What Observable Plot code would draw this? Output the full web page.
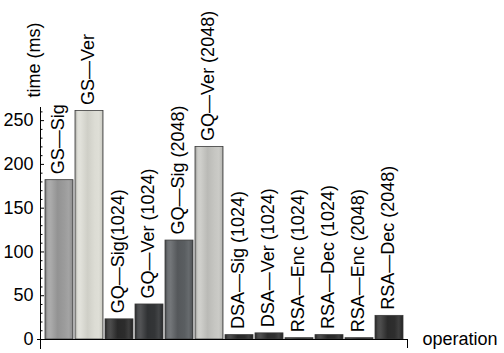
<!DOCTYPE html>
<html>
<head>
<meta charset="utf-8">
<script src="https://cdn.jsdelivr.net/npm/d3@7"></script>
<script src="https://cdn.jsdelivr.net/npm/@observablehq/plot@0.6"></script>
<style>
  html, body { margin: 0; padding: 0; background: #fff; }
  svg { display: block; }
</style>
</head>
<body>
<div id="chart"></div>
<script>
// ---- data ----
const operations = [
  "GS—Sig", "GS—Ver", "GQ—Sig(1024)", "GQ—Ver (1024)", "GQ—Sig (2048)", "GQ—Ver (2048)",
  "DSA—Sig (1024)", "DSA—Ver (1024)", "RSA—Enc (1024)", "RSA—Dec (1024)", "RSA—Enc (2048)", "RSA—Dec (2048)"
];
const timesMs = [182, 261, 23, 40, 113, 220, 5, 7, 1.5, 5, 1.5, 27];
const yMajorTicks = [0, 50, 100, 150, 200, 250];
const yMinorTicks = d3.range(0, 261, 10).filter(v => v % 50 !== 0);
const yLabel = "time (ms)";
const xLabel = "operation";

// ---- style ----
const barShades = ["#9c9c9c", "#dcdcd4", "#2c2c2c", "#333537", "#5a5e61", "#c6c6c2",
                   "#2c2c2c", "#303030", "#3e3e3e", "#2c2c2c", "#333333", "#2e2e2e"];
const font = "Liberation Sans, Arial, sans-serif";

const plot = Plot.plot({
  width: 504,
  height: 353,
  marginLeft: 40,
  marginRight: 97,
  marginTop: 107,
  marginBottom: 14,
  style: {fontFamily: font, fontSize: "18px", background: "#fff", color: "#000", overflow: "visible"},
  x: {type: "band", domain: operations, paddingInner: 0.075, paddingOuter: 0.04, axis: null},
  y: {domain: [0, 265], axis: null},
  color: {type: "identity"},
  marks: [
    Plot.barY(operations, {
      x: d => d,
      y: (d, i) => timesMs[i],
      fill: (d, i) => `url(#shade${i})`,
      stroke: "#3a3a3a",
      strokeWidth: 0.8
    }),
    Plot.text(operations, {
      x: d => d,
      y: (d, i) => timesMs[i],
      text: d => d,
      rotate: -90,
      textAnchor: "start",
      lineAnchor: "middle",
      dy: -6,
      dx: -1.5,
      fontSize: 18,
      fill: "#000"
    }),
    // y axis: labels, major ticks, minor ticks (ticks drawn inward)
    Plot.axisY({ticks: yMajorTicks, tickSize: 0, tickPadding: 7, fontSize: 18, label: null}),
    Plot.axisY({ticks: yMajorTicks, tickSize: -4, tickFormat: () => "", label: null}),
    Plot.axisY({ticks: yMinorTicks, tickSize: -2.5, tickFormat: () => "", label: null}),
    Plot.frame({anchor: "left", insetBottom: -9}),
    Plot.frame({anchor: "bottom", insetLeft: -3}),
    Plot.frame({anchor: "right", insetTop: 232, insetBottom: -8}),
    Plot.text([yLabel], {frameAnchor: "top-left", rotate: -90, textAnchor: "start", lineAnchor: "middle", dx: -6.5, dy: -10, fontSize: 18}),
    Plot.text([xLabel], {frameAnchor: "bottom-right", textAnchor: "start", lineAnchor: "middle", dx: 15, dy: 0, fontSize: 18})
  ]
});

// gradient definitions for the shaded bars
const ns = "http://www.w3.org/2000/svg";
const defs = document.createElementNS(ns, "defs");
barShades.forEach((base, i) => {
  const g = document.createElementNS(ns, "linearGradient");
  g.setAttribute("id", `shade${i}`);
  g.setAttribute("x1", "0"); g.setAttribute("x2", "1");
  g.setAttribute("y1", "0"); g.setAttribute("y2", "0");
  const dark = t => d3.interpolateRgb(base, "#000")(t);
  const light = t => d3.interpolateRgb(base, "#fff")(t);
  const stops = [
    [0, dark(0.25)], [0.1, light(0.12)], [0.2, light(0.15)], [0.45, dark(0.06)],
    [0.7, base], [0.85, light(0.08)], [0.95, dark(0.05)], [1, dark(0.3)]
  ];
  for (const [o, c] of stops) {
    const s = document.createElementNS(ns, "stop");
    s.setAttribute("offset", o);
    s.setAttribute("stop-color", c);
    g.appendChild(s);
  }
  defs.appendChild(g);
});
plot.insertBefore(defs, plot.firstChild);
document.getElementById("chart").appendChild(plot);
</script>
</body>
</html>
